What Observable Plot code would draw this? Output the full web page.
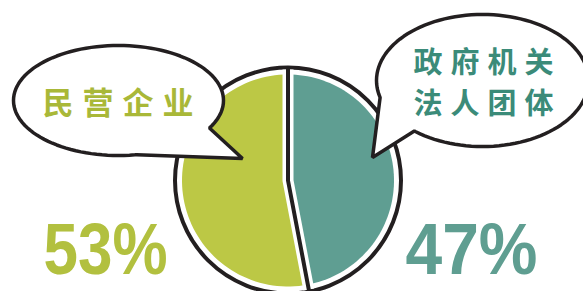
<!DOCTYPE html>
<html>
<head>
<meta charset="utf-8">
<script src="https://cdn.jsdelivr.net/npm/d3@7"></script>
<script src="https://cdn.jsdelivr.net/npm/@observablehq/plot@0.6"></script>
<style>
  html, body { margin: 0; padding: 0; background: #fff; overflow: hidden; }
  #chart { width: 583px; height: 291px; overflow: hidden; }
</style>
</head>
<body>
<div id="chart"></div>
<script>
// ---- data ----
const categories = ["政府机关\n法人团体", "民营企业"];
const shares = [47, 53];
const percentLabels = ["47%", "53%"];
const sliceColors = ["#5f9e92", "#bcc845"];
const labelColors = ["#3b8b79", "#a9b838"];
const percentColors = ["#5f9e91", "#b2c03f"];

// ---- layout ----
const W = 583, H = 291;
const ink = "#231f20";
const pieC = {x: 287.5, y: 180};
const ringR = 113, sliceR = 106;
const bubbles = [
  {cx: 482, cy: 80, rx: 106, ry: 66, tail: [130, 165], tip: [372, 157]},
  {cx: 118, cy: 100, rx: 105, ry: 55, tail: [30, 80], tip: [242, 158]}
];
const labelPos = [{x: 487, y: 80, size: 29, spacing: 8}, {x: 122, y: 99, size: 31, spacing: 9}];
const pctPos = [{x: 471, y: 250, len: 132}, {x: 105, y: 250, len: 124}];

const pie = d3.pie().sort(null).value(d => d)(shares);
const pt = (a, r) => ({x: pieC.x + r * Math.sin(a), y: pieC.y - r * Math.cos(a)});

function slicePoints(s) {
  const pts = [pt(0, 0)];
  const n = 80;
  for (let i = 0; i <= n; i++) pts.push(pt(s.startAngle + (s.endAngle - s.startAngle) * i / n, sliceR));
  pts.push(pt(0, 0));
  return pts;
}
const boundary = [pt(pie[0].startAngle, ringR - 1), pt(0, 0), pt(pie[0].endAngle, ringR - 1)];
const boundaryWide = [pt(pie[0].startAngle, ringR - 2), pt(0, 0), pt(pie[0].endAngle, ringR - 2)];

function bubblePoints(b) {
  const pts = [];
  const [t0, t1] = b.tail;
  for (let d = 0; d <= 360; d += 3) {
    if (d > t0 && d < t1) continue;
    const t = d * Math.PI / 180;
    pts.push({x: b.cx + b.rx * Math.cos(t), y: b.cy + b.ry * Math.sin(t)});
    if (d <= t0 && d + 3 > t0) {
      const tt = t0 * Math.PI / 180;
      pts.push({x: b.cx + b.rx * Math.cos(tt), y: b.cy + b.ry * Math.sin(tt)});
      pts.push({x: b.tip[0], y: b.tip[1]});
      const t2 = t1 * Math.PI / 180;
      pts.push({x: b.cx + b.rx * Math.cos(t2), y: b.cy + b.ry * Math.sin(t2)});
    }
  }
  return pts;
}

const chart = Plot.plot({
  width: W, height: H, margin: 0,
  x: {domain: [0, W], range: [0, W], axis: null},
  y: {domain: [0, H], range: [0, H], axis: null},
  marks: [
    Plot.dot([pieC], {x: "x", y: "y", r: ringR, fill: "white", stroke: ink, strokeWidth: 4}),
    ...pie.map((s, i) => Plot.line(slicePoints(s), {x: "x", y: "y", fill: sliceColors[i], stroke: "none", curve: "linear"})),
    Plot.line(boundaryWide, {x: "x", y: "y", stroke: "white", strokeWidth: 11, strokeLinecap: "butt"}),
    Plot.line(boundary, {x: "x", y: "y", stroke: ink, strokeWidth: 4, strokeLinecap: "butt", strokeLinejoin: "round"}),
    ...bubbles.map(b => Plot.line(bubblePoints(b), {x: "x", y: "y", fill: "white", stroke: ink, strokeWidth: 3.5, strokeLinejoin: "miter", curve: "linear"})),
    ...categories.map((c, i) => Plot.text([c], {
      x: () => labelPos[i].x, y: () => labelPos[i].y, text: d => d,
      fill: labelColors[i], fontSize: labelPos[i].size, fontWeight: "bold",
      fontFamily: "Noto Sans CJK SC", lineHeight: 1.42, textAnchor: "middle"
    })),
    ...percentLabels.map((p, i) => Plot.text([p], {
      x: () => pctPos[i].x, y: () => pctPos[i].y, text: d => d,
      fill: percentColors[i], fontSize: 72, fontWeight: "bold",
      fontFamily: "Liberation Sans, Roboto", textAnchor: "middle"
    }))
  ]
});

// letter spacing / condensed look for the hand-lettered text
d3.select(chart).selectAll("text").each(function() {
  const t = this.textContent;
  const sel = d3.select(this);
  if (t.includes("%")) {
    const i = percentLabels.indexOf(t);
    sel.attr("textLength", pctPos[i].len).attr("lengthAdjust", "spacingAndGlyphs");
  }
  else if (t.includes("民")) sel.attr("letter-spacing", labelPos[1].spacing);
  else sel.attr("letter-spacing", labelPos[0].spacing);
});

document.getElementById("chart").append(chart);
</script>
</body>
</html>
